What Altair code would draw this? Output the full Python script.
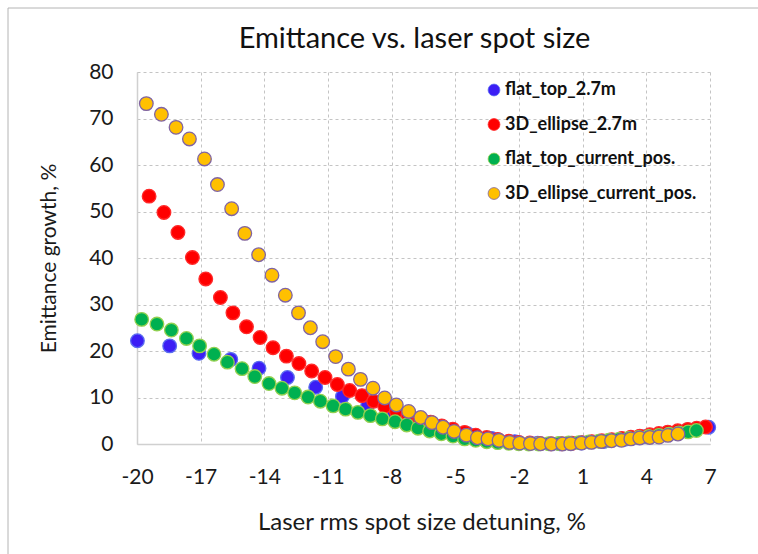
import altair as alt
import pandas as pd

# Laser rms spot size detuning (%) and emittance growth (%) per configuration
flat_top_27_x = [-19.98, -18.46, -17.08, -15.58, -14.25, -12.91, -11.58, -10.32, -9.13, -7.90,
                 -6.72, -5.55, -4.42, -3.29, -2.20, -1.12, -0.08, 0.95, 1.99, 2.98,
                 3.97, 4.96, 5.95, 6.94]
flat_top_27_y = [22.2, 21.1, 19.5, 18.2, 16.3, 14.3, 12.2, 10.2, 8.4, 6.7,
                 5.0, 3.5, 2.2, 1.2, 0.5, 0.15, 0.05, 0.2, 0.55, 1.0,
                 1.6, 2.3, 3.0, 3.6]

ellipse_27_x = [-19.43, -18.73, -18.07, -17.39, -16.76, -16.07, -15.48, -14.84, -14.20, -13.59,
                -12.96, -12.37, -11.77, -11.14, -10.56, -9.98, -9.40, -8.85, -8.33, -7.78,
                -7.23, -6.68, -6.16, -5.64, -5.12, -4.56, -4.04, -3.52, -3.00, -2.48,
                -2.01, -1.49, -1.02, -0.50, 0.01, 0.49, 0.96, 1.43, 1.90, 2.37,
                2.84, 3.27, 3.69, 4.16, 4.59, 5.01, 5.48, 5.95, 6.37, 6.79]
ellipse_27_y = [53.3, 49.8, 45.5, 40.1, 35.5, 31.5, 28.2, 25.2, 22.9, 20.7,
                18.9, 17.3, 15.7, 14.3, 12.8, 11.5, 10.4, 9.2, 8.1, 7.0,
                6.3, 5.5, 4.7, 3.9, 3.2, 2.5, 1.9, 1.4, 1.0, 0.6,
                0.35, 0.2, 0.1, 0.05, 0.05, 0.15, 0.3, 0.5, 0.7, 0.95,
                1.2, 1.45, 1.7, 2.0, 2.25, 2.55, 2.85, 3.15, 3.4, 3.65]

flat_top_cur_x = [-19.78, -19.06, -18.38, -17.67, -17.05, -16.37, -15.74, -15.05, -14.45, -13.78,
                  -13.17, -12.57, -11.94, -11.36, -10.76, -10.17, -9.59, -9.00, -8.44, -7.84,
                  -7.29, -6.76, -6.21, -5.66, -5.11, -4.56, -4.04, -3.52, -3.00, -2.48,
                  -2.01, -1.54, -1.07, -0.60, -0.13, 0.34, 0.82, 1.29, 1.76, 2.23,
                  2.70, 3.17, 3.64, 4.11, 4.59, 5.06, 5.53, 5.97, 6.36]
flat_top_cur_y = [26.8, 25.8, 24.5, 22.7, 21.1, 19.3, 17.6, 16.2, 14.5, 13.0,
                  12.0, 11.0, 10.1, 9.2, 8.2, 7.5, 6.8, 6.1, 5.4, 4.8,
                  4.1, 3.4, 2.8, 2.2, 1.7, 1.1, 0.8, 0.5, 0.3, 0.15,
                  0.05, 0.0, 0.0, 0.05, 0.1, 0.2, 0.3, 0.45, 0.6, 0.8,
                  1.0, 1.2, 1.4, 1.6, 1.85, 2.1, 2.4, 2.6, 2.9]

ellipse_cur_x = [-19.56, -18.85, -18.16, -17.53, -16.82, -16.21, -15.54, -14.92, -14.27, -13.64,
                 -13.01, -12.39, -11.83, -11.25, -10.64, -10.04, -9.47, -8.88, -8.33, -7.78,
                 -7.20, -6.63, -6.10, -5.58, -5.06, -4.48, -3.96, -3.46, -2.94, -2.44,
                 -1.97, -1.46, -0.98, -0.47, 0.05, 0.44, 0.94, 1.41, 1.88, 2.36,
                 2.83, 3.27, 3.69, 4.16, 4.60, 5.02, 5.49]
ellipse_cur_y = [73.2, 70.9, 68.1, 65.6, 61.3, 55.8, 50.6, 45.3, 40.7, 36.3,
                 32.0, 28.2, 25.0, 22.0, 18.8, 16.1, 13.9, 12.0, 9.9, 8.4,
                 7.0, 5.7, 4.6, 3.6, 2.7, 1.9, 1.35, 1.1, 0.8, 0.35,
                 0.2, 0.1, 0.05, 0.0, 0.0, 0.06, 0.2, 0.35, 0.55, 0.7,
                 0.8, 1.1, 1.3, 1.4, 1.5, 1.85, 2.15]

series_names = ["flat_top_2.7m", "3D_ellipse_2.7m", "flat_top_current_pos.", "3D_ellipse_current_pos."]
fill_colors = ["#3c1ef5", "#ff0000", "#00b050", "#ffc000"]
edge_colors = ["#5a6cf0", "#ff2a2a", "#92d050", "#8064a2"]
x_ticks = [-20, -17, -14, -11, -8, -5, -2, 1, 4, 7]

frames = []
for name, xs, ys in zip(series_names,
                        [flat_top_27_x, ellipse_27_x, flat_top_cur_x, ellipse_cur_x],
                        [flat_top_27_y, ellipse_27_y, flat_top_cur_y, ellipse_cur_y]):
    frames.append(pd.DataFrame({"series": name, "detuning": xs, "growth": ys}))
df = pd.concat(frames, ignore_index=True)
df["order"] = df["series"].map({n: i for i, n in enumerate(series_names)})

FONT = "Lato"
W, H = 573, 372
PAD_L, PAD_T, PAD_R, PAD_B = 137, 72, 48, 110

points = alt.Chart(df).mark_circle(opacity=1, size=185, strokeWidth=1.3).encode(
    x=alt.X("detuning:Q",
            scale=alt.Scale(domain=[-20, 7], nice=False, zero=False),
            axis=alt.Axis(values=x_ticks, title="Laser rms spot size detuning, %",
                          labelExpr="toString(datum.value)",
                          titleFontSize=24,
                          titleX=W / 2 - 2, titleY=78, titleBaseline="middle",
                          labelPadding=33, labelBaseline="middle",
                          labelFlush=False)),
    y=alt.Y("growth:Q",
            scale=alt.Scale(domain=[0, 80], nice=False),
            axis=alt.Axis(values=list(range(0, 81, 10)), title="Emittance growth, %",
                          titleX=-88, titleY=H / 2, titleBaseline="middle",
                          titleAlign="center", labelPadding=24)),
    fill=alt.Fill("series:N", scale=alt.Scale(domain=series_names, range=fill_colors),
                  legend=alt.Legend(title=None, orient="none", legendX=348, legendY=9,
                                    symbolType="circle", symbolSize=140,
                                    rowPadding=16.5, labelOffset=2, padding=0,
                                    labelLimit=400,
                                    labelFont=FONT, labelFontSize=18, labelFontWeight="bold",
                                    labelColor="#111111", symbolStrokeWidth=0.8)),
    stroke=alt.Stroke("series:N", scale=alt.Scale(domain=series_names, range=edge_colors),
                      legend=None),
    order=alt.Order("order:Q"),
)

# Light grey outer frame of the chart area
frame_src = alt.Chart(pd.DataFrame({"v": [0]}))
frame_top = frame_src.mark_rule(color="#b4b4b4", strokeWidth=1).encode(
    x=alt.value(-(PAD_L - 8)), x2=alt.value(W + PAD_R + 5), y=alt.value(-(PAD_T - 8)))
frame_left = frame_src.mark_rule(color="#b4b4b4", strokeWidth=1).encode(
    x=alt.value(-(PAD_L - 8)), y=alt.value(-(PAD_T - 8)), y2=alt.value(H + PAD_B + 5))

chart = alt.layer(frame_top, frame_left, points).properties(
    width=W, height=H,
    padding={"left": PAD_L, "top": PAD_T, "right": PAD_R, "bottom": PAD_B},
    autosize=alt.AutoSizeParams(type="none"),
    title=alt.TitleParams("Emittance vs. laser spot size", font=FONT, fontSize=29,
                          fontWeight="normal", color="#111111", anchor="middle",
                          dx=-9, offset=-69, baseline="alphabetic"),
).configure(background="white").configure_view(stroke=None).configure_axis(
    labelFont=FONT, labelFontSize=21, labelColor="#1a1a1a",
    titleFont=FONT, titleFontSize=21, titleFontWeight="normal", titleColor="#1a1a1a",
    ticks=False, tickSize=0,
    grid=True, gridColor="#c4c4c4", gridDash=[3, 3], gridWidth=1,
    domainColor="#d0d0d0", domainWidth=1.5,
)

chart.save("out.html", embed_options={"renderer": "svg", "actions": False})
